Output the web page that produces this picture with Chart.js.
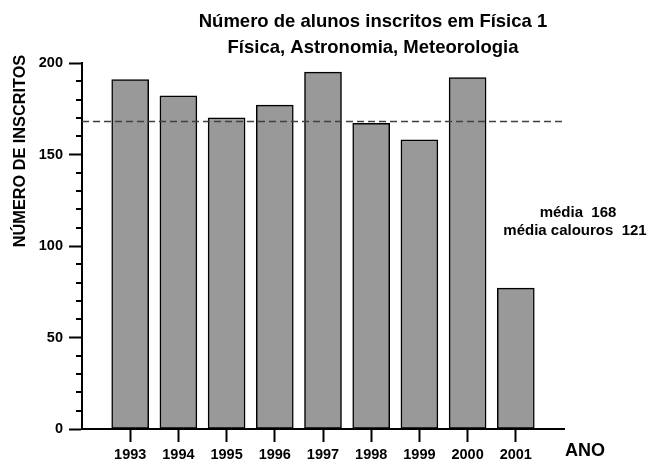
<!DOCTYPE html>
<html><head><meta charset="utf-8">
<script src="https://cdn.jsdelivr.net/npm/chart.js@4/dist/chart.umd.min.js"></script>
<style>html,body{margin:0;padding:0;background:#fff}canvas{display:block}</style>
</head><body>
<canvas id="c" width="648" height="463"></canvas>
<script>
const years = [1993, 1994, 1995, 1996, 1997, 1998, 1999, 2000, 2001];
const enrolled = [191, 182, 170, 177, 195, 167, 158, 192, 77];
const meanAll = 168;
const meanFreshmen = 121;
const yTicks = [0, 50, 100, 150, 200];
const yMinorTicks = [10, 20, 30, 40, 60, 70, 80, 90, 110, 120, 130, 140, 160, 170, 180, 190];
const titleLines = ['Número de alunos inscritos em Física 1', 'Física, Astronomia, Meteorologia'];
const yTitle = 'NÚMERO DE INSCRITOS';
const xTitle = 'ANO';
const notes = ['média  ' + meanAll, 'média calouros  ' + meanFreshmen];
const FONT = '"Liberation Sans", Arial, sans-serif';

const extras = {
  id: 'extras',
  afterDraw(chart) {
    const ctx = chart.ctx, y = chart.scales.y;
    ctx.save();
    ctx.strokeStyle = '#000';
    ctx.lineWidth = 2;
    yMinorTicks.forEach(v => {
      const py = Math.round(y.getPixelForValue(v));
      ctx.beginPath(); ctx.moveTo(y.right - 6, py); ctx.lineTo(y.right, py); ctx.stroke();
    });
    ctx.fillStyle = '#000';
    ctx.textAlign = 'center';
    ctx.textBaseline = 'alphabetic';
    ctx.font = 'bold 18.5px ' + FONT;
    ctx.fillText(titleLines[0], 373, 27);
    ctx.fillText(titleLines[1], 373, 53);
    ctx.font = 'bold 15px ' + FONT;
    ctx.fillText(notes[0], 578, 217);
    ctx.fillText(notes[1], 575, 235);
    ctx.font = 'bold 18px ' + FONT;
    ctx.fillText(xTitle, 585, 456);
    ctx.translate(25, 151);
    ctx.rotate(-Math.PI / 2);
    ctx.font = 'bold 16.3px ' + FONT;
    ctx.fillText(yTitle, 0, 0);
    ctx.restore();
  }
};

const axisGrid = { display: true, offset: false, drawOnChartArea: false, drawTicks: true, tickLength: 13, tickWidth: 2, tickColor: '#000' };
const axisBorder = { display: true, color: '#000', width: 2 };
const tickFont = { family: FONT, size: 14.5, weight: 'bold' };

new Chart(document.getElementById('c'), {
  data: {
    datasets: [
      {
        type: 'line',
        data: [{ x: 1992, y: meanAll }, { x: 2002, y: meanAll }],
        borderColor: '#404040', borderWidth: 1.5, borderDash: [7, 4],
        pointRadius: 0, order: 0
      },
      {
        type: 'bar',
        data: years.map((yr, i) => ({ x: yr, y: enrolled[i] })),
        backgroundColor: '#999999', borderColor: '#000', borderWidth: 1.5,
        borderSkipped: false, barThickness: 37, order: 1
      }
    ]
  },
  options: {
    responsive: false, animation: false, devicePixelRatio: 1,
    layout: { padding: { top: 63, right: 84, left: 0, bottom: 0 } },
    plugins: { legend: { display: false }, tooltip: { enabled: false }, title: { display: false } },
    scales: {
      x: {
        type: 'linear', min: 1992, max: 2002, offset: false,
        afterBuildTicks: s => { s.ticks = years.map(v => ({ value: v })); },
        afterFit: s => { s.height = 34; },
        grid: axisGrid, border: axisBorder,
        ticks: { color: '#000', font: tickFont, padding: 4, maxRotation: 0, autoSkip: false, callback: v => String(v) }
      },
      y: {
        type: 'linear', min: 0, max: 200, offset: false,
        afterBuildTicks: s => { s.ticks = yTicks.map(v => ({ value: v })); },
        afterFit: s => { s.width = 82; },
        grid: axisGrid, border: axisBorder,
        ticks: { color: '#000', font: tickFont, padding: 6, callback: v => String(v) }
      }
    }
  },
  plugins: [extras]
});
</script>
</body></html>
